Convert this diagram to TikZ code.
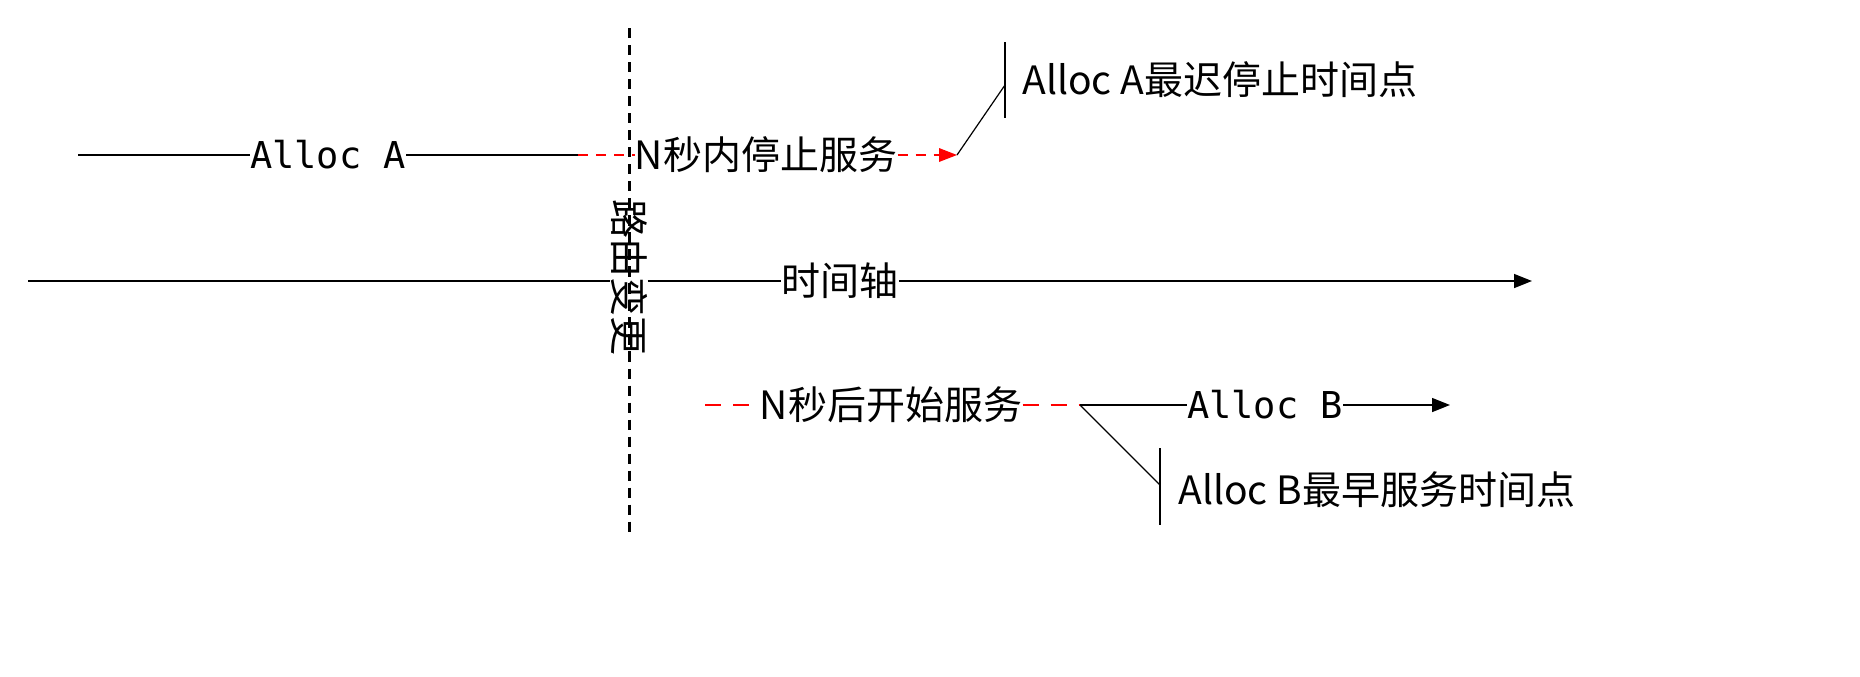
\documentclass[tikz,border=0pt]{standalone}
\usepackage{fontspec}
\newfontfamily\cjk{Noto Sans CJK SC}
\newfontfamily\mono{DejaVu Sans Mono}
\usetikzlibrary{arrows.meta}
\begin{document}
\begin{tikzpicture}[x=0.5pt,y=-0.5pt,
  lbl/.style={font=\cjk\fontsize{19.5}{21}\selectfont,inner sep=0pt,anchor=center},
  mlbl/.style={font=\mono\fontsize{18.5}{20}\selectfont,inner sep=0pt,anchor=center},
  reddash/.style={draw=red,line width=1.2pt,dash pattern=on 8pt off 6pt},
  tip/.style={-{Triangle[length=9pt,width=7pt]}}]
\useasboundingbox (0,0) rectangle (1860,676);
% route change
\node[lbl,rotate=-90] (route) at (629,277) {路由变更};
\coordinate (rtop) at (629,28);
\coordinate (rbot) at (629,535);
\draw[line width=1.5pt,dash pattern=on 5pt off 3.5pt] (rtop) -- (route.east);
\draw[line width=1.5pt,dash pattern=on 5pt off 3.5pt] (route.west) -- (rbot);
% time axis
\node[lbl] (axis) at (840,281) {时间轴};
\coordinate (a0) at (28,281);
\coordinate (a1) at (1532,281);
\draw[line width=0.75pt] (a0) -- (route.south |- a0);
\draw[line width=0.75pt] (route.north |- a0) -- (axis.west);
\draw[line width=0.75pt,tip] (axis.east) -- (a1);
% Alloc A
\node[mlbl] (aa) at (328,155) {Alloc A};
\node[lbl] (stopA) at (766,155) {N秒内停止服务};
\coordinate (A0) at (78,155);
\coordinate (A1) at (578,155);
\coordinate (Aend) at (957,155);
\draw[line width=1.25pt] (A0) -- (aa.west);
\draw[line width=1.25pt] (aa.east) -- (A1);
\draw[draw=red,line width=0.75pt,dash pattern=on 5pt off 4pt] (A1) -- (stopA.west);
\draw[draw=red,line width=0.75pt,dash pattern=on 5pt off 4pt] (stopA.east) -- ++(50,0);
\fill[red] ([xshift=-9pt,yshift=-3.5pt]Aend) -- (Aend) -- ([xshift=-9pt,yshift=3.5pt]Aend) -- cycle;
\coordinate (ct0) at (1005,42);
\coordinate (cb0) at (1005,118);
\coordinate (cm0) at (1005,85);
\draw[line width=0.6pt] (ct0) -- (cb0);
\draw[line width=0.6pt] (Aend) -- (cm0);
\node[lbl,anchor=west] (ta) at (1022,80) {Alloc A最迟停止时间点};
% Alloc B
\node[lbl] (startB) at (891,405) {N秒后开始服务};
\node[mlbl] (bb) at (1265,405) {Alloc B};
\coordinate (B0) at (705,405);
\coordinate (B1) at (1080,405);
\coordinate (B2) at (1450,405);
\draw[reddash] (B0) -- (startB.west);
\draw[reddash] (startB.east) -- (B1);
\draw[line width=0.75pt] (B1) -- (bb.west);
\draw[line width=0.75pt,tip] (bb.east) -- (B2);
\coordinate (ct1) at (1160,448);
\coordinate (cb1) at (1160,525);
\coordinate (cm1) at (1160,485);
\draw[line width=0.6pt] (ct1) -- (cb1);
\draw[line width=0.6pt] (B1) -- (cm1);
\node[lbl,anchor=west] (tb) at (1178,490) {Alloc B最早服务时间点};
\end{tikzpicture}
\end{document}
